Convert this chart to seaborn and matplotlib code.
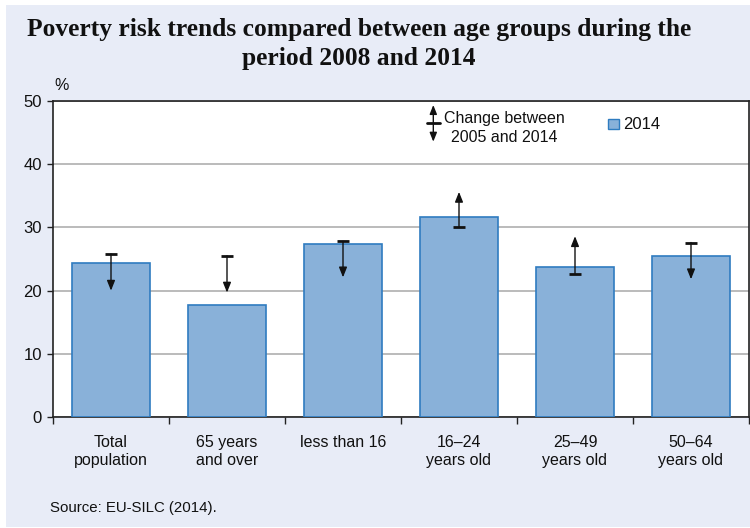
import matplotlib
matplotlib.use("Agg")
import matplotlib.pyplot as plt
import seaborn as sns
from matplotlib.patches import Rectangle
from matplotlib.lines import Line2D
from matplotlib.text import Annotation

# =========================
# data
# =========================
categories = ["Total\npopulation", "65 years\nand over", "less than 16",
              "16\u201324\nyears old", "25\u201349\nyears old", "50\u201364\nyears old"]
rate_2014 = [24.4, 17.7, 27.4, 31.6, 23.8, 25.5]
change_start = [25.8, 25.5, 27.8, 30.0, 22.7, 27.6]   # cap
change_end = [20.0, 19.7, 22.1, 35.6, 28.6, 21.8]     # arrow tip
y_ticks = [0, 10, 20, 30, 40, 50]

title = "Poverty risk trends compared between age groups during the\nperiod 2008 and 2014"
source = "Source: EU-SILC (2014)."

# =========================
# style
# =========================
W, H = 750, 528
bg = "#E8ECF7"
bar_fill = "#89B1D9"
bar_edge = "#2F7CC0"
sans = ["Liberation Sans", "DejaVu Sans"]
serif = ["Liberation Serif", "DejaVu Serif"]

sns.set_theme(style="white")
plt.rcParams["font.family"] = sans


def fx(px):
    return px / W


def fy(py):
    return 1 - py / H


fig = plt.figure(figsize=(7.5, 5.28), dpi=100, facecolor="white")
fig.patches.append(Rectangle((fx(6), fy(527)), fx(750) - fx(6), fy(5) - fy(527),
                             transform=fig.transFigure, facecolor=bg,
                             edgecolor="none", zorder=-5))

ax = fig.add_axes([fx(53), fy(417.3), fx(749) - fx(53), fy(100.7) - fy(417.3)])
ax.set_zorder(2)
ax.set_facecolor("white")

sns.barplot(x=list(range(len(categories))), y=rate_2014, ax=ax, color=bar_fill,
            edgecolor=bar_edge, linewidth=1.2, width=0.67, saturation=1, zorder=3)

# change arrows
for i, (a, b) in enumerate(zip(change_start, change_end)):
    ax.annotate("", xy=(i, b), xytext=(i, a),
                arrowprops=dict(arrowstyle="-|>,head_length=0.5,head_width=0.2",
                                color="#111111", lw=1.0, shrinkA=0, shrinkB=0),
                zorder=5)
ax.hlines(change_start, [i - 0.05 for i in range(len(categories))],
          [i + 0.05 for i in range(len(categories))],
          color="#111111", lw=2.0, zorder=6)

ax.set_xlim(-0.5, len(categories) - 0.5)
ax.set_ylim(0, 50)
ax.set_yticks(y_ticks)
ax.set_yticklabels([str(t) for t in y_ticks], fontsize=12)
ax.yaxis.grid(True, color="#A8A8A8", lw=1.1, zorder=0)
ax.set_axisbelow(True)

# category boundaries get tick marks, centers get labels
ax.set_xticks([i - 0.5 for i in range(len(categories) + 1)])
ax.set_xticklabels([])
ax.set_xticks(list(range(len(categories))), minor=True)
ax.set_xticklabels(categories, minor=True, fontsize=11.5, color="#111111")
ax.tick_params(axis="x", which="major", direction="out", length=5, width=1,
               color="#222222", bottom=True)
ax.tick_params(axis="x", which="minor", length=0, pad=13)
ax.tick_params(axis="y", direction="out", length=4, width=1, color="#222222",
               left=True, pad=4, labelcolor="#111111")
ax.set_xlabel("")
ax.set_ylabel("")
for s in ax.spines.values():
    s.set_visible(True)
    s.set_color("#222222")
    s.set_linewidth(1.2)

# title, unit, source
fig.text(fx(359), fy(44), title, ha="center", va="center", family=serif,
         fontweight="bold", fontsize=18.4, color="#111111", linespacing=1.35)
fig.text(fx(62), fy(86), "%", ha="center", va="center", fontsize=11.5, color="#111111")
fig.text(fx(50), fy(508), source, ha="left", va="center", fontsize=10.8, color="#111111")

# legend
fig.add_artist(Annotation(
    "", xy=(fx(433.3), fy(105)), xytext=(fx(433.3), fy(141.7)),
    xycoords="figure fraction", textcoords="figure fraction",
    arrowprops=dict(arrowstyle="<|-|>,head_length=0.45,head_width=0.18",
                    color="#111111", lw=1.0, shrinkA=0, shrinkB=0), zorder=5))
fig.add_artist(Line2D([fx(427), fx(440)], [fy(123.3), fy(123.3)],
                      transform=fig.transFigure, color="#111111", lw=2.0, zorder=6))
fig.text(fx(504.5), fy(128), "Change between\n2005 and 2014", ha="center", va="center",
         multialignment="center", fontsize=11.5, color="#111111", linespacing=1.25,
         zorder=5)
fig.add_artist(Rectangle((fx(608), fy(129.3)), fx(11.3), fy(119.3) - fy(129.3),
                         transform=fig.transFigure, facecolor=bar_fill,
                         edgecolor=bar_edge, lw=1, zorder=5))
fig.text(fx(623), fy(124.5), "2014", ha="left", va="center", fontsize=12,
         color="#111111", zorder=5)

fig.savefig("out.png", dpi=100, facecolor="white")
